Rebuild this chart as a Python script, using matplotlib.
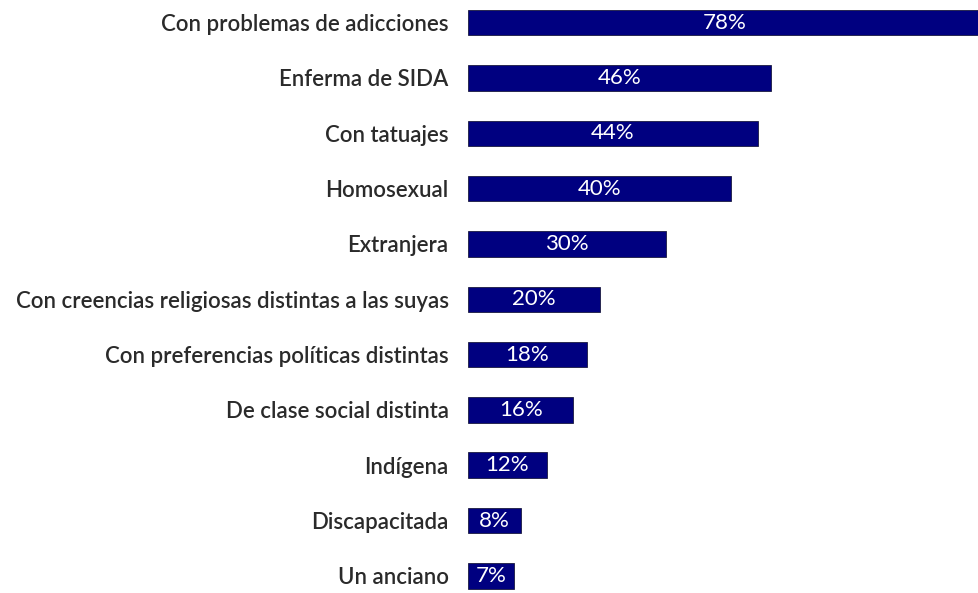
import matplotlib.pyplot as plt

# Datos
categorias = [
    "Con problemas de adicciones",
    "Enferma de SIDA",
    "Con tatuajes",
    "Homosexual",
    "Extranjera",
    "Con creencias religiosas distintas a las suyas",
    "Con preferencias políticas distintas",
    "De clase social distinta",
    "Indígena",
    "Discapacitada",
    "Un anciano",
]
valores = [78, 46, 44, 40, 30, 20, 18, 16, 12, 8, 7]

NAVY = "#000080"
TEXT = "#2a2a2a"

plt.rcParams['font.family'] = ['Lato', 'DejaVu Sans']

fig = plt.figure(figsize=(9.79, 5.93), dpi=100)
ax = fig.add_axes([0.478, 0.0, 0.522, 1.0])

pos = list(range(len(categorias)))
bars = ax.barh(pos, valores, height=0.46, color=NAVY, edgecolor="#1a1a40", linewidth=0.6)

for b, v in zip(bars, valores):
    ax.text(b.get_x() + b.get_width() / 2, b.get_y() + b.get_height() / 2, f"{v}%",
            ha='center', va='center', color='white', fontsize=16)

ax.set_xlim(0, 77.6)
ax.set_ylim(10.31, -0.41)
ax.set_yticks(pos)
ax.set_yticklabels(categorias, fontsize=16, color=TEXT, fontweight='semibold')
ax.tick_params(axis='y', length=0, pad=14)
ax.set_xticks([])
for s in ax.spines.values():
    s.set_visible(False)

fig.savefig("out.png", dpi=100, facecolor='white')
